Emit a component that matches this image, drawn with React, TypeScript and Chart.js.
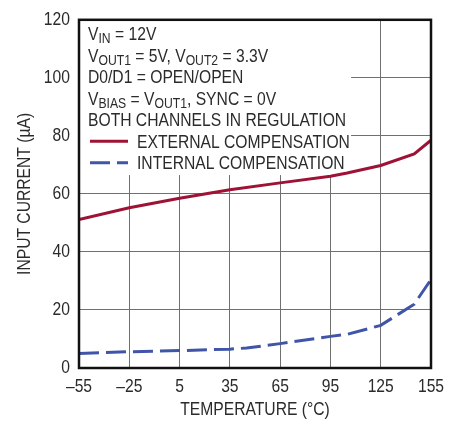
import React, { useEffect, useRef } from "react";
import { Chart, registerables } from "chart.js";

Chart.register(...registerables);

const temperatures = [-55, -25, 5, 35, 65, 95, 105, 125, 145, 155];
const externalComp = [51.2, 55.2, 58.5, 61.4, 63.8, 66.1, 67.2, 69.8, 73.8, 78.5];
const internalTemps = [-55, -25, 5, 35, 45, 65, 95, 105, 125, 145, 155];
const internalComp = [5.0, 5.6, 6.0, 6.5, 6.9, 8.4, 10.9, 11.6, 14.7, 22.0, 30.5];
const xTicks = [-55, -25, 5, 35, 65, 95, 125, 155];
const yTicks = [0, 20, 40, 60, 80, 100, 120];

const FONT = "'Liberation Sans', Arial, sans-serif";
const TEXT = "#2b2b2b";
const RED = "#9e1235";
const BLUE = "#4055a8";
const SQUEEZE = 0.87;

type Run = [string, boolean];
const noteLines: Run[][] = [
  [["V", false], ["IN", true], [" = 12V", false]],
  [["V", false], ["OUT1", true], [" = 5V, V", false], ["OUT2", true], [" = 3.3V", false]],
  [["D0/D1 = OPEN/OPEN", false]],
  [["V", false], ["BIAS", true], [" = V", false], ["OUT1", true], [", SYNC = 0V", false]],
  [["BOTH CHANNELS IN REGULATION", false]],
];
const legendLabels = ["EXTERNAL COMPENSATION", "INTERNAL COMPENSATION"];

// draw all canvas text slightly condensed (like the narrow sans of the original)
const condensePlugin = {
  id: "condense",
  beforeDraw(chart: any) {
    const ctx = chart.ctx;
    if (ctx.__condensed) return;
    const proto = CanvasRenderingContext2D.prototype.fillText;
    ctx.__condensed = true;
    ctx.fillText = function (text: string, x: number, y: number, maxWidth?: number) {
      this.save();
      this.translate(x, y);
      this.scale(SQUEEZE, 1);
      if (maxWidth !== undefined) proto.call(this, text, 0, 0, maxWidth / SQUEEZE);
      else proto.call(this, text, 0, 0);
      this.restore();
    };
  },
};

const notePlugin = {
  id: "notes",
  beforeDatasetsDraw(chart: any) {
    const { ctx, chartArea, scales } = chart;
    const x = scales.x, y = scales.y;
    const right = x.getPixelForValue(107.3);
    const bottom = y.getPixelForValue(66.5);
    ctx.save();
    ctx.fillStyle = "#ffffff";
    ctx.fillRect(chartArea.left, chartArea.top, right - chartArea.left, bottom - chartArea.top);
    ctx.restore();
  },
  afterDatasetsDraw(chart: any) {
    const { ctx, chartArea } = chart;
    const left = chartArea.left + 9;
    const top = chartArea.top;
    const lh = 21.5;
    ctx.save();
    ctx.fillStyle = TEXT;
    ctx.textBaseline = "alphabetic";
    ctx.textAlign = "left";
    noteLines.forEach((runs, i) => {
      let cx = left;
      const by = top + 20.5 + i * lh;
      runs.forEach(([t, sub]) => {
        ctx.font = sub ? `14px ${FONT}` : `18px ${FONT}`;
        ctx.fillText(t, cx, sub ? by + 3 : by);
        cx += ctx.measureText(t).width * SQUEEZE;
      });
    });
    legendLabels.forEach((label, i) => {
      const ds = chart.data.datasets[i];
      const by = top + 20.5 + (5 + i) * lh;
      const my = by - 6.5;
      ctx.save();
      ctx.strokeStyle = ds.borderColor;
      ctx.lineWidth = ds.borderWidth;
      ctx.setLineDash(ds.borderDash || []);
      ctx.beginPath();
      ctx.moveTo(left + 2, my);
      ctx.lineTo(left + 40, my);
      ctx.stroke();
      ctx.restore();
      ctx.font = `18px ${FONT}`;
      ctx.fillStyle = TEXT;
      ctx.fillText(label, left + 49, by);
    });
    ctx.strokeStyle = "#111";
    ctx.lineWidth = 2.5;
    ctx.setLineDash([]);
    ctx.strokeRect(chartArea.left, chartArea.top, chartArea.right - chartArea.left, chartArea.bottom - chartArea.top);
    ctx.restore();
  },
};

export default function App() {
  const ref = useRef<HTMLCanvasElement | null>(null);
  useEffect(() => {
    if (!ref.current) return;
    const chart = new Chart(ref.current, {
      type: "line",
      data: {
        datasets: [
          {
            label: legendLabels[0],
            data: temperatures.map((t, i) => ({ x: t, y: externalComp[i] })),
            borderColor: RED,
            borderWidth: 3,
            pointRadius: 0,
            fill: false,
            tension: 0,
          },
          {
            label: legendLabels[1],
            data: internalTemps.map((t, i) => ({ x: t, y: internalComp[i] })),
            borderColor: BLUE,
            borderWidth: 3,
            borderDash: [20, 7],
            pointRadius: 0,
            fill: false,
            tension: 0,
          },
        ],
      },
      options: {
        animation: false,
        responsive: true,
        maintainAspectRatio: false,
        layout: { padding: { top: 17, right: 29, left: 0, bottom: 0 } },
        plugins: { legend: { display: false }, tooltip: { enabled: false } },
        scales: {
          x: {
            type: "linear",
            min: -55,
            max: 155,
            afterBuildTicks: (s: any) => { s.ticks = xTicks.map((v) => ({ value: v })); },
            afterFit: (s: any) => { s.height = 57; },
            grid: { color: "#707070", lineWidth: 1, drawTicks: false },
            border: { display: false },
            ticks: {
              padding: 8,
              color: TEXT,
              font: { family: FONT, size: 18 },
              maxRotation: 0,
              autoSkip: false,
              callback: (v: any) => String(v).replace("-", "\u2013"),
            },
            title: {
              display: true,
              text: "TEMPERATURE (°C)",
              color: TEXT,
              font: { family: FONT, size: 18 },
              padding: { top: 0, bottom: 4 },
            },
          },
          y: {
            type: "linear",
            min: 0,
            max: 120,
            afterBuildTicks: (s: any) => { s.ticks = yTicks.map((v) => ({ value: v })); },
            afterFit: (s: any) => { s.width = 79; },
            grid: { color: "#707070", lineWidth: 1, drawTicks: false },
            border: { display: false },
            ticks: {
              padding: 9,
              color: TEXT,
              font: { family: FONT, size: 18 },
            },
            title: {
              display: true,
              text: "INPUT CURRENT (µA)",
              color: TEXT,
              font: { family: FONT, size: 18 },
              padding: { top: 14, bottom: 0 },
            },
          },
        },
      },
      plugins: [condensePlugin, notePlugin],
    } as any);
    return () => chart.destroy();
  }, []);
  return (
    <div style={{ position: "absolute", left: 0, top: 0, width: 460, height: 425, background: "#fff" }}>
      <canvas ref={ref} />
    </div>
  );
}
